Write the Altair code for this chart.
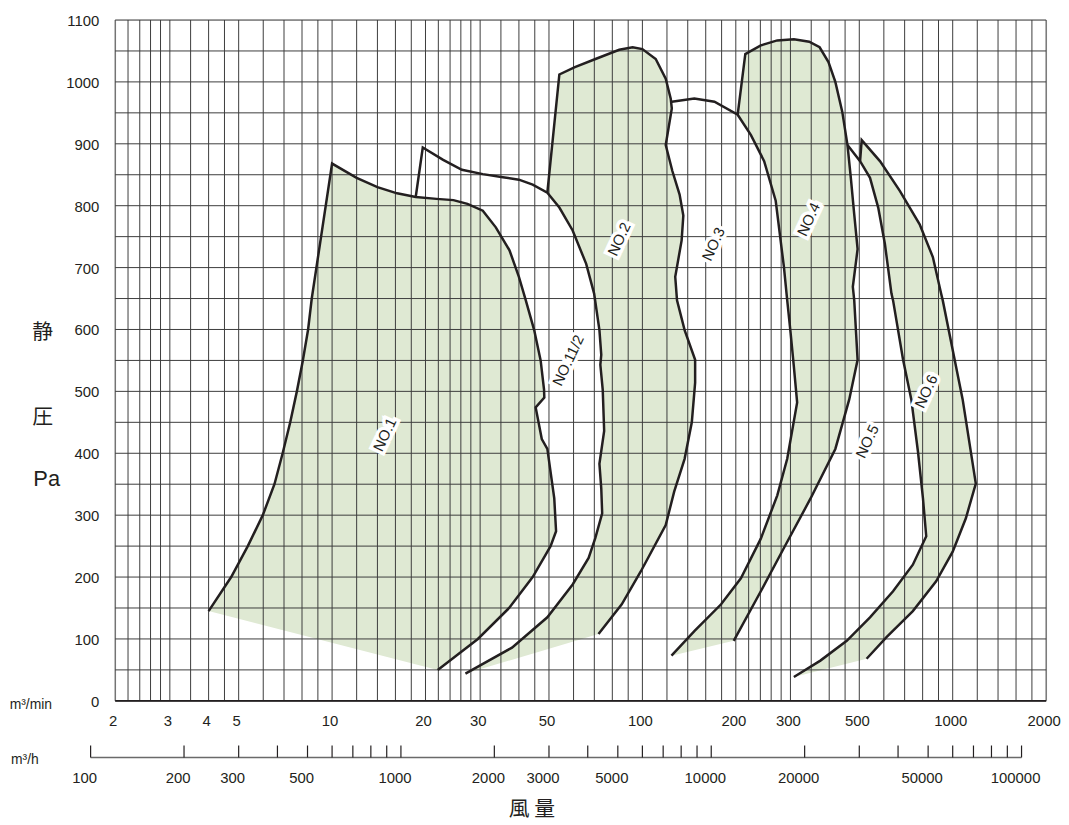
import altair as alt
import pandas as pd

# ---------------- data (m3/min , Pa) ----------------
NO1_X = [4.0, 4.73, 5.35, 5.98, 6.52, 6.93, 7.33, 7.7, 8.05, 8.37, 8.6, 10.0, 12.0, 14.0, 16.2, 18.6,
         21.7, 24.6, 27.3, 30.6, 33.7, 37.3, 40.0, 42.1, 44.8, 47.0, 48.2, 48.3, 45.3, 47.4, 49.4, 52.0,
         52.7, 50.6, 44.3, 37.2, 29.5, 21.9]
NO1_Y = [145, 200, 250, 300, 350, 400, 450, 500, 550, 600, 650, 868, 845, 830, 820, 814,
         811, 809, 803, 792, 765, 728, 685, 647, 599, 550, 503, 490, 474, 423, 407, 327,
         274, 250, 200, 150, 100, 50]

NO15_X = [18.6, 19.6, 22.8, 26.2, 30.6, 35.5, 40.0, 44.3, 49.4, 54.0, 59.6, 65.9, 69.9, 72.7, 73.7,
          73.2, 74.5, 75.3, 72.7, 73.7, 74.2, 70.5, 67.1, 59.6, 49.4, 38.0, 26.9]
NO15_Y = [814, 894, 874, 858, 851, 846, 842, 834, 821, 797, 760, 706, 658, 599, 559,
          543, 503, 436, 383, 343, 303, 263, 231, 188, 135, 86, 44]

NO2_X = [49.4, 54.0, 60.6, 70.6, 84.2, 93.0, 100.0, 110.4, 118.9, 123.4, 124.4, 118.9, 124.9, 131.8,
         135.5, 133.8, 127.6, 129.3, 136.8, 147.9, 147.9, 144.3, 136.8, 126.6, 118.9, 98.8, 85.8, 72.2]
NO2_Y = [821, 1012, 1024, 1037, 1052, 1056, 1053, 1037, 1005, 973, 957, 898, 856, 818,
         784, 744, 685, 647, 599, 551, 514, 450, 391, 338, 284, 209, 156, 108]

NO3_X = [124.4, 147.0, 170.7, 202.8, 223.8, 246.8, 268.9, 285.8, 292.9, 300.4, 307.7, 315.3, 292.9,
         272.1, 240.8, 207.7, 179.3, 147.3, 124.1]
NO3_Y = [968, 973, 968, 947, 914, 872, 808, 701, 647, 594, 540, 482, 391,
         332, 262, 198, 156, 113, 73]

NO4_X = [202.8, 214.6, 240.8, 272.0, 307.8, 344.8, 372.5, 397.8, 418.6, 440.6, 458.1, 469.6, 481.6,
         493.8, 476.6, 481.6, 493.8, 464.1, 418.6, 348.3, 285.8, 240.8, 196.9]
NO4_Y = [947, 1045, 1059, 1067, 1069, 1065, 1056, 1032, 1000, 952, 898, 845, 786,
         730, 669, 647, 551, 487, 407, 327, 247, 177, 97]

NO5_X = [458.1, 503.0, 541.4, 575.4, 604.7, 634.8, 642.4, 692.0, 735.5, 773.0, 802.0, 821.7, 744.0,
         642.4, 541.4, 455.6, 374.6, 307.7]
NO5_Y = [898, 872, 845, 797, 738, 658, 647, 551, 487, 402, 327, 266, 220,
         177, 135, 97, 65, 38.5]

NO6_X = [503.0, 509.0, 582.8, 675.4, 782.5, 863.0, 917.6, 928.9, 1000.0, 1076.6, 1187.0, 1102.6,
         1000.0, 884.3, 744.0, 612.0, 528.0]
NO6_Y = [872, 906, 872, 824, 770, 717, 658, 647, 567, 487, 351, 295,
         241, 193, 145, 103, 68]

LABELS = ["NO.1", "NO.11/2", "NO.2", "NO.3", "NO.4", "NO.5", "NO.6"]
LABEL_X = [14.8, 57.7, 84.2, 169.5, 343.6, 530.6, 821.7]
LABEL_Y = [430, 550, 746, 738, 778, 419, 500]

X_LABELS = [2, 3, 4, 5, 10, 20, 30, 50, 100, 200, 300, 500, 1000, 2000]
X_GRID = [2, 2.2, 2.4, 2.6, 2.8, 3, 3.5, 4, 4.5, 5, 6, 7, 8, 9,
          10, 12, 14, 16, 18, 20, 22, 24, 26, 28, 30, 35, 40, 45, 50, 60, 70, 80, 90,
          100, 120, 140, 160, 180, 200, 220, 240, 260, 280, 300, 350, 400, 450, 500, 600, 700, 800, 900,
          1000, 1200, 1400, 1600, 1800, 2000]
Y_LABELS = list(range(0, 1101, 100))
Y_GRID = list(range(0, 1101, 50))

MH_TICKS = [100, 200, 300, 400, 500, 600, 700, 800, 900, 1000, 2000, 3000, 4000, 5000, 6000, 7000,
            8000, 9000, 10000, 20000, 30000, 40000, 50000, 60000, 70000, 80000, 90000, 100000]
MH_LABELS = [100, 200, 300, 500, 1000, 2000, 3000, 5000, 10000, 20000, 50000, 100000]

# ---------------- styling ----------------
FILL = "#dfe9d3"
INK = "#231f20"
GRID = "#3c3c3c"
FONT = "Liberation Sans"
CJK = "Noto Sans CJK JP"
W, H = 938, 686

X_SCALE = alt.Scale(type="log", domain=[2, 2000], nice=False)
Y_SCALE = alt.Scale(domain=[0, 1100], nice=False, zero=False)
XQ = alt.X("q:Q", scale=X_SCALE, axis=None)
YP = alt.Y("p:Q", scale=Y_SCALE, axis=None)

# ---------------- tables ----------------
curves = {"NO.1": (NO1_X, NO1_Y), "NO.15": (NO15_X, NO15_Y), "NO.2": (NO2_X, NO2_Y),
          "NO.3": (NO3_X, NO3_Y), "NO.4": (NO4_X, NO4_Y), "NO.5": (NO5_X, NO5_Y),
          "NO.6": (NO6_X, NO6_Y)}
rows = []
for name, (xs, ys) in curves.items():
    for i, (a, b) in enumerate(zip(xs, ys)):
        rows.append({"curve": name, "i": i, "q": a, "p": b})
curve_df = pd.DataFrame(rows)


def tail_reversed(xs, ys, x0, y0):
    k = next(i for i, (a, b) in enumerate(zip(xs, ys)) if a == x0 and b == y0)
    return list(zip(xs[k:], ys[k:]))[::-1]


polys = {
    "NO.1": list(zip(NO1_X, NO1_Y)),
    "NO.2": tail_reversed(NO15_X, NO15_Y, NO2_X[0], NO2_Y[0]) + list(zip(NO2_X, NO2_Y)),
    "NO.4": tail_reversed(NO3_X, NO3_Y, NO4_X[0], NO4_Y[0]) + list(zip(NO4_X, NO4_Y)),
    "NO.6": tail_reversed(NO5_X, NO5_Y, NO6_X[0], NO6_Y[0]) + list(zip(NO6_X, NO6_Y)),
}
prow = []
for name, pts in polys.items():
    for i, (a, b) in enumerate(pts):
        prow.append({"poly": name, "i": i, "q": a, "p": b})
poly_df = pd.DataFrame(prow)

label_df = pd.DataFrame({"t": LABELS, "q": LABEL_X, "p": LABEL_Y})
xgrid_df = pd.DataFrame({"q": X_GRID})
ygrid_df = pd.DataFrame({"p": Y_GRID})
xlab_df = pd.DataFrame({"q": X_LABELS})
ylab_df = pd.DataFrame({"p": Y_LABELS})
mh_tick_df = pd.DataFrame({"mh": MH_TICKS})
mh_lab_df = pd.DataFrame({"mh": MH_LABELS})
mh_line_df = pd.DataFrame({"a": [min(MH_TICKS)], "b": [max(MH_TICKS)]})

# ---------------- layers ----------------
fills = alt.Chart(poly_df).mark_line(fill=FILL, stroke=FILL, strokeWidth=0.5).encode(
    x=XQ, y=YP, detail="poly:N", order="i:Q")

vgrid = alt.Chart(xgrid_df).mark_rule(color=GRID, strokeWidth=1).encode(x=XQ)
hgrid = alt.Chart(ygrid_df).mark_rule(color=GRID, strokeWidth=1).encode(y=YP)
base_line = alt.Chart(pd.DataFrame({"p": [0]})).mark_rule(color=INK, strokeWidth=1.6).encode(y=YP)

lines = alt.Chart(curve_df).mark_line(color=INK, strokeWidth=2.5, strokeJoin="miter").encode(
    x=XQ, y=YP, detail="curve:N", order="i:Q")

# axis labels (m3/min and Pa)
x_labels = alt.Chart(xlab_df).mark_text(font=FONT, fontSize=15, color=INK, dx=-2).encode(
    x=XQ, y=alt.value(H + 20), text=alt.Text("q:Q", format="d"))
y_labels = alt.Chart(ylab_df).mark_text(font=FONT, fontSize=15, color=INK, align="right",
                                        dy=1).encode(
    y=YP, x=alt.value(-16), text=alt.Text("p:Q", format="d"))

lab_base = alt.Chart(label_df).encode(x=XQ, y=YP, text="t:N")
halo = lab_base.mark_text(angle=295, font=FONT, fontSize=15, color="white", stroke="white",
                          strokeWidth=7)
labels = lab_base.mark_text(angle=295, font=FONT, fontSize=15, color=INK)

# secondary m3/h axis (same log scale, m3/h = 60 * m3/min)
mh_ticks = alt.Chart(mh_tick_df).transform_calculate(q="datum.mh / 60").mark_rule(
    color=INK, strokeWidth=1.2).encode(
    x=XQ, y=alt.value(H + 45), y2=alt.value(H + 57))
mh_line = alt.Chart(mh_line_df).transform_calculate(
    q="datum.a / 60", q2="datum.b / 60").mark_rule(color="#6a6a6a", strokeWidth=1.5).encode(
    x=XQ, x2="q2:Q", y=alt.value(H + 57))
mh_labels = alt.Chart(mh_lab_df).transform_calculate(q="datum.mh / 60").mark_text(
    font=FONT, fontSize=15, color=INK, dx=-6).encode(
    x=XQ, y=alt.value(H + 78), text=alt.Text("mh:Q", format="d"))


def note(txt, x, y, size, font):
    return alt.Chart(pd.DataFrame({"t": [txt]})).mark_text(
        font=font, fontSize=size, color=INK).encode(
        x=alt.value(x), y=alt.value(y), text="t:N")


notes = [
    note("静", -73, 315, 21, CJK),
    note("圧", -73, 401, 21, CJK),
    note("Pa", -69, 463, 22, FONT),
    note("m³/min", -85, H + 4, 14, FONT),
    note("m³/h", -91, H + 60, 14, FONT),
    note("風 量", 420, H + 110, 21, CJK),
]

chart = alt.layer(fills, vgrid, hgrid, base_line, lines, x_labels, y_labels, halo, labels,
                  mh_line, mh_ticks, mh_labels, *notes).properties(
    width=W, height=H,
    padding={"left": 108, "top": 9, "right": 15, "bottom": 122},
    autosize=alt.AutoSizeParams(type="none"),
).configure_view(stroke=None).configure(background="white")

chart.save("out.html", embed_options={"renderer": "svg", "actions": False})
